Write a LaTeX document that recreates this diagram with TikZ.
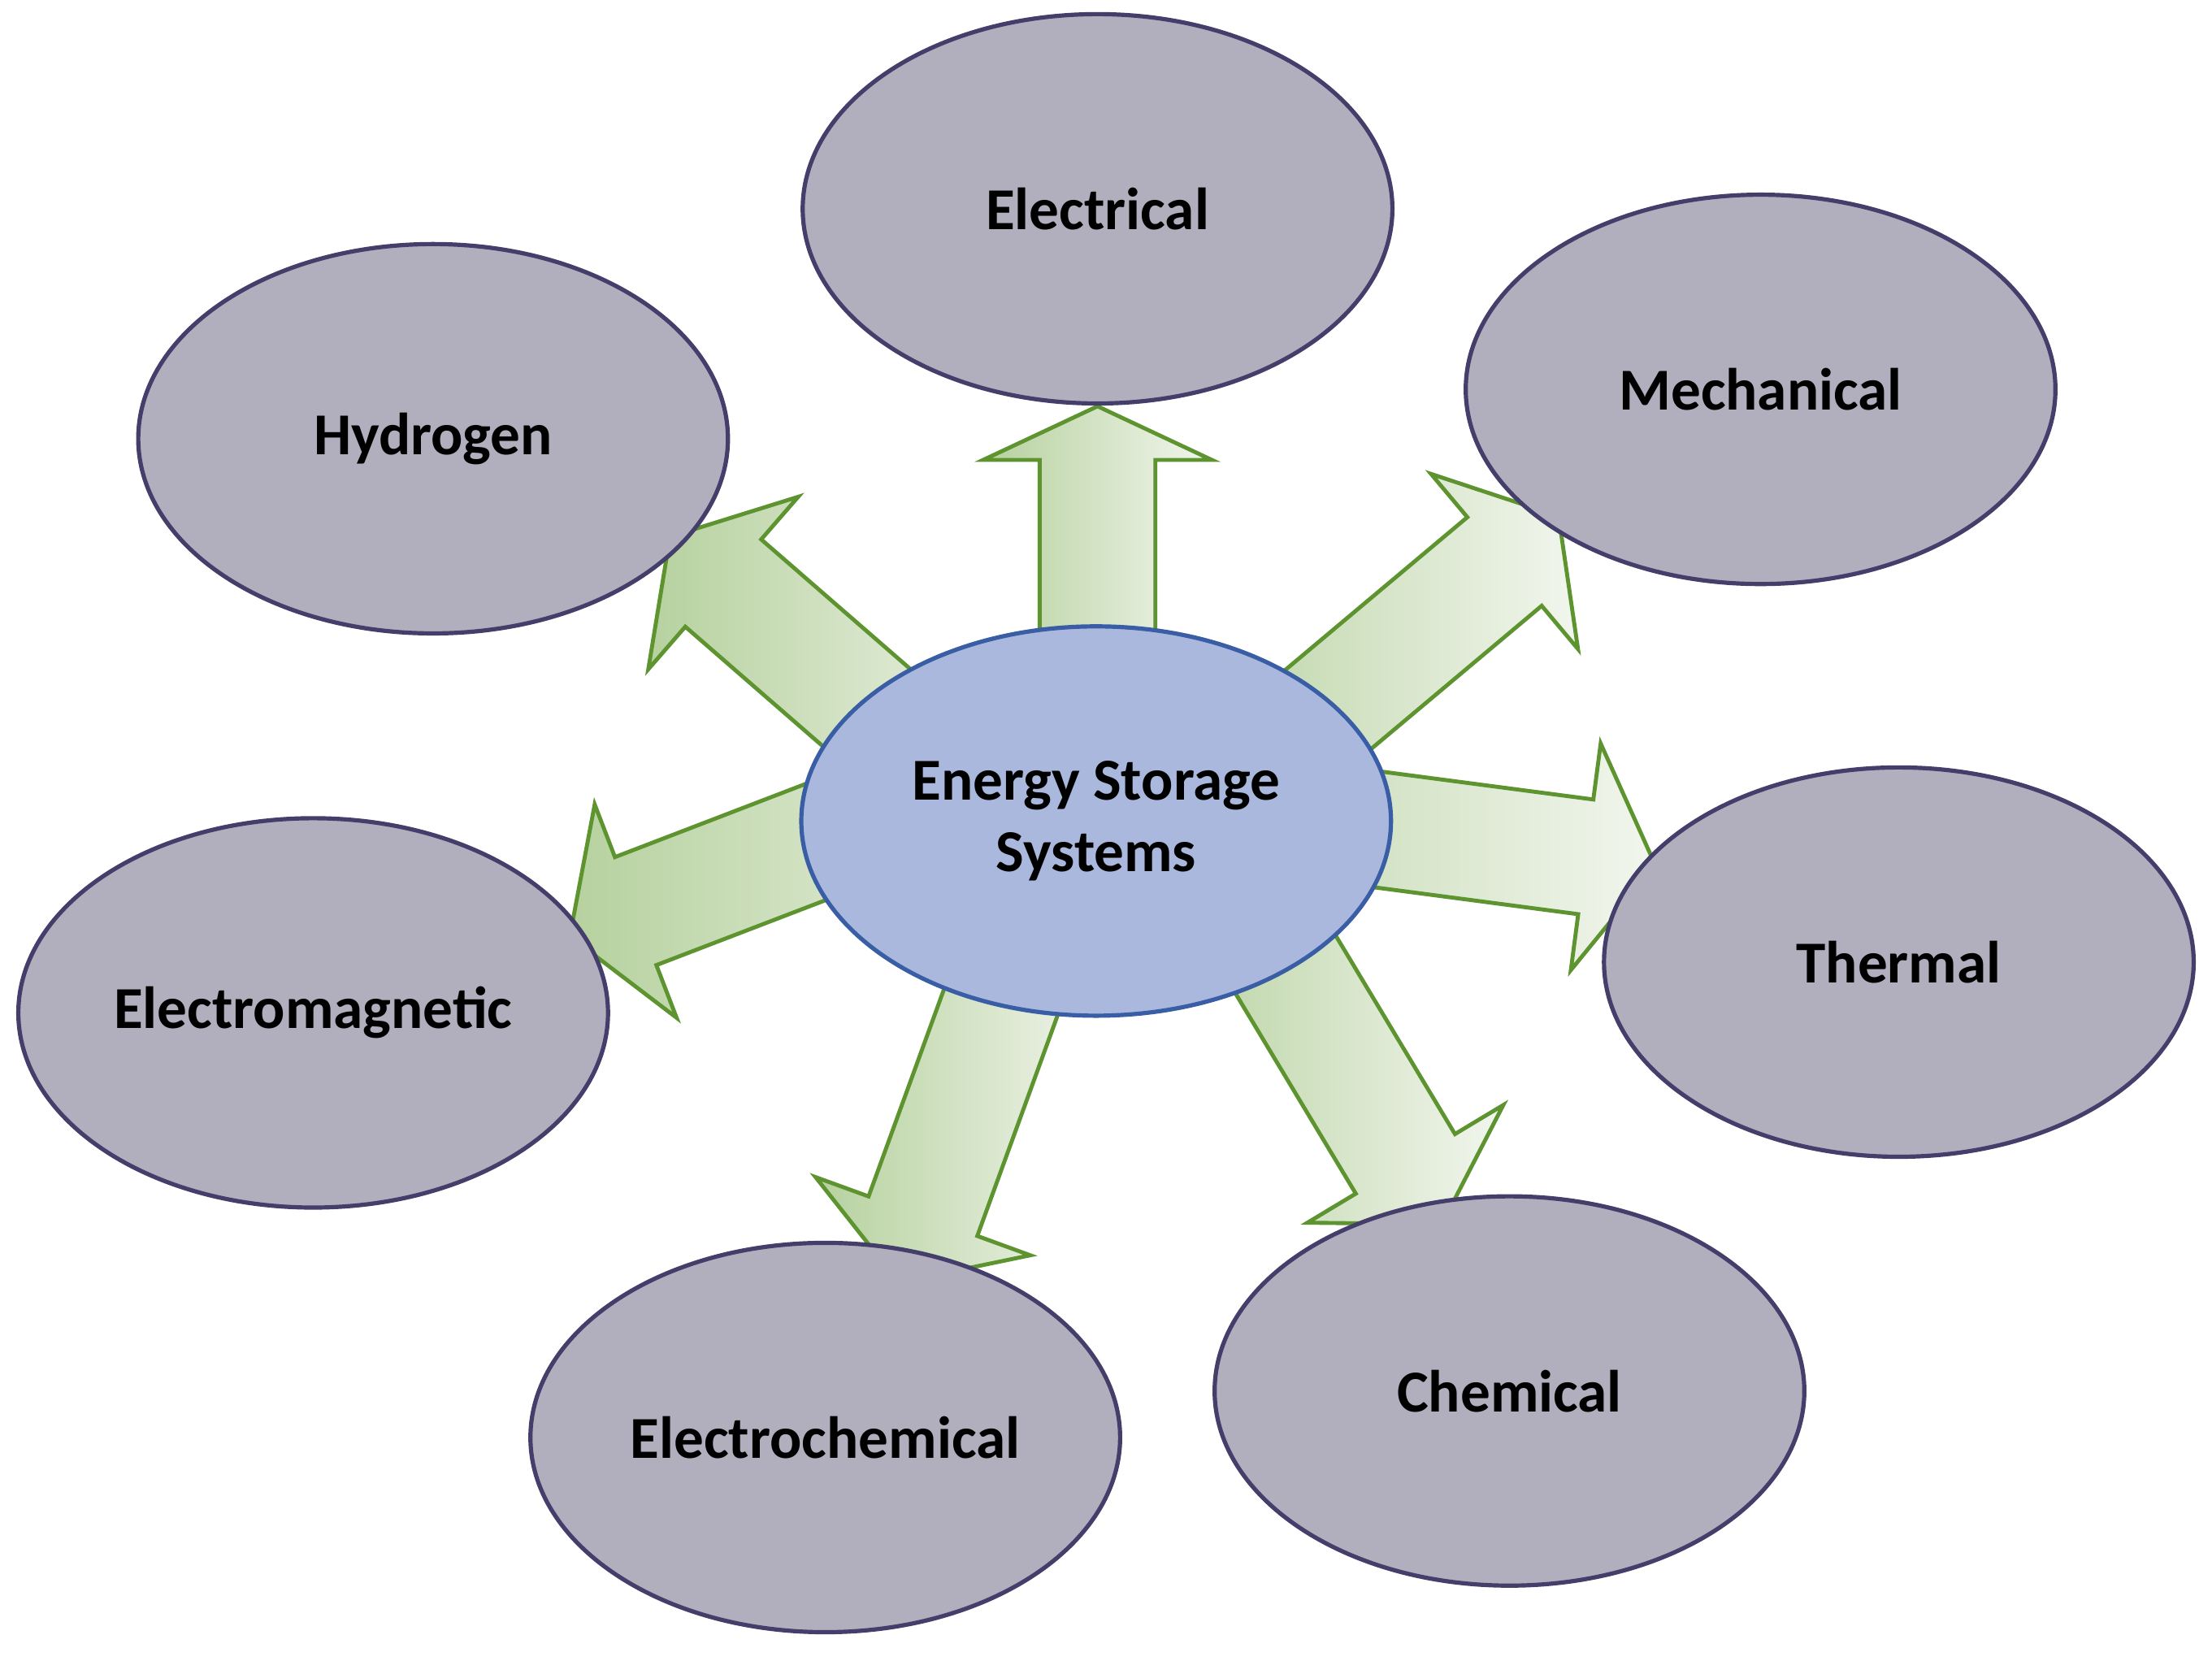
\documentclass[tikz,border=0pt]{standalone}
\usepackage{fontspec}
\setmainfont{Carlito}
\usetikzlibrary{shapes.geometric}
\definecolor{ellfill}{HTML}{B1AEBE}
\definecolor{elldraw}{HTML}{443F6A}
\definecolor{cfill}{HTML}{A9B8DC}
\definecolor{cdraw}{HTML}{3A5EA6}
\definecolor{arrdraw}{HTML}{5E9430}
\definecolor{arrdark}{HTML}{B6D19E}
\definecolor{arrlight}{HTML}{F2F6EE}
\tikzset{
  outer/.style={ellipse, draw=elldraw, fill=ellfill, line width=1.7pt, minimum width=418*0.02cm, minimum height=276*0.02cm, font=\bfseries\fontsize{24}{29}\selectfont, inner sep=0pt},
  center/.style={outer, draw=cdraw, fill=cfill, align=center},
  bigarrow/.style={draw=arrdraw, line width=1.6pt, line join=miter, left color=arrdark, right color=arrlight}
}
\newcommand{\bigarr}[5]{% Sx Sy screen-angle L hl
  \begin{scope}[shift={(#1,#2)}, rotate=-#3]
  \shade[bigarrow] (0,-41) -- (#4-#5,-41) -- (#4-#5,-81) -- (#4,0) -- (#4-#5,81) -- (#4-#5,41) -- (0,41) -- cycle;
  \end{scope}}
\begin{document}
\begin{tikzpicture}[x=0.02cm,y=-0.02cm]
\useasboundingbox (0,0) rectangle (1568,1177);
\bigarr{778}{470}{-90}{182}{38}
\bigarr{852}{578}{-40}{330}{50}
\bigarr{724}{597}{-139}{330}{50}
\bigarr{787}{563}{7.5}{390}{50}
\bigarr{852}{585}{59}{330}{50}
\bigarr{750}{599}{110}{330}{50}
\bigarr{768}{524}{159}{390}{50}
\node[outer] (el) at (778,148) {Electrical};
\node[outer] (me) at (1248,276) {Mechanical};
\node[outer] (hy) at (307,311) {Hydrogen};
\node[outer] (th) at (1346,682) {Thermal};
\node[outer] (em) at (222,718) {Electromagnetic};
\node[outer] (ch) at (1070,986) {Chemical};
\node[outer] (ec) at (585,1019) {Electrochemical};
\node[center] (c) at (777,582) {Energy Storage\\Systems};
\end{tikzpicture}
\end{document}
